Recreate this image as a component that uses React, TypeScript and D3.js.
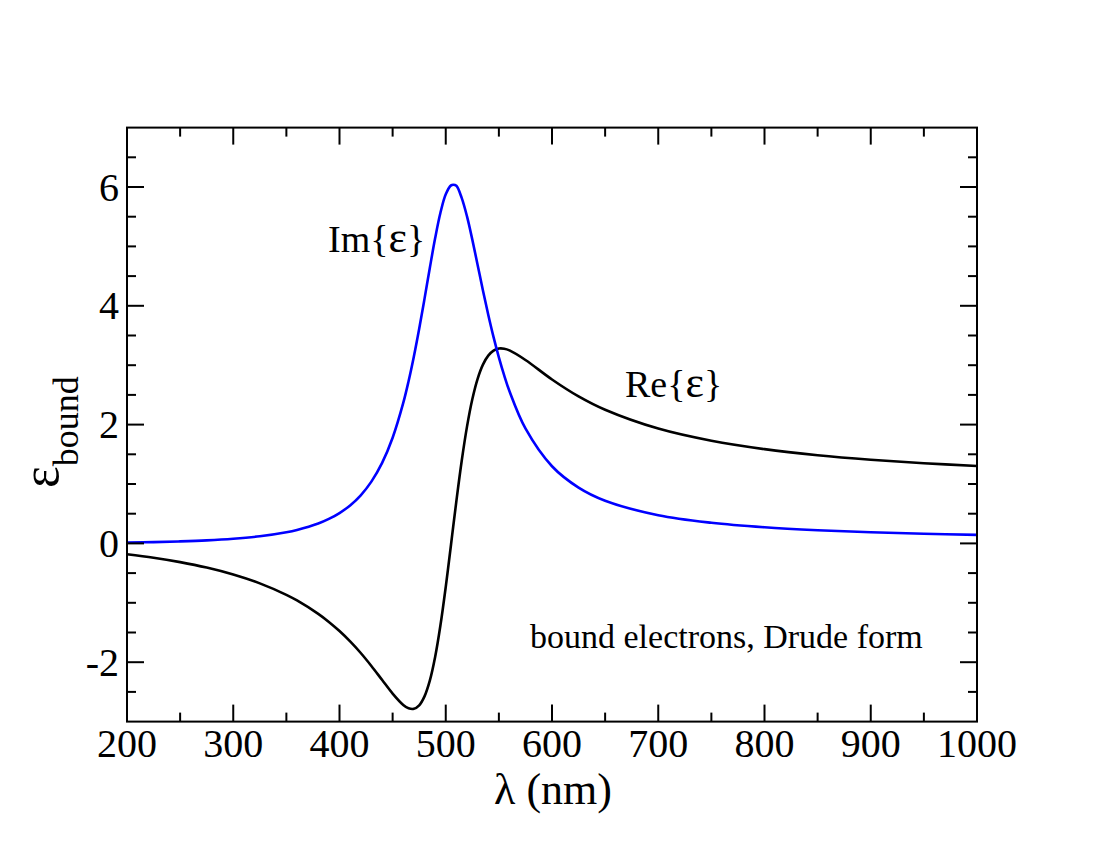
import { useMemo } from 'react';
import * as d3 from 'd3';

// wavelength (nm) samples
const LAMBDA = [200, 225, 250, 275, 300, 325, 350, 360, 380, 390, 400, 410, 420, 430, 440, 450, 460, 465, 470, 475, 480, 485, 490, 495, 500, 505, 507, 510, 515, 520, 525, 530, 535, 540, 545, 550, 555, 560, 575, 600, 625, 650, 700, 750, 800, 850, 900, 950, 1000];
const RE_EPS = [-0.182, -0.241, -0.315, -0.407, -0.524, -0.673, -0.866, -0.961, -1.186, -1.322, -1.476, -1.650, -1.845, -2.063, -2.296, -2.528, -2.719, -2.775, -2.784, -2.726, -2.576, -2.311, -1.913, -1.379, -0.731, -0.014, 0.280, 0.712, 1.387, 1.966, 2.427, 2.771, 3.009, 3.161, 3.245, 3.280, 3.277, 3.249, 3.088, 2.760, 2.475, 2.250, 1.933, 1.728, 1.587, 1.485, 1.409, 1.350, 1.302];
const IM_EPS = [0.014, 0.022, 0.034, 0.051, 0.078, 0.120, 0.188, 0.227, 0.335, 0.412, 0.511, 0.640, 0.810, 1.040, 1.351, 1.779, 2.365, 2.730, 3.147, 3.613, 4.117, 4.637, 5.136, 5.566, 5.877, 6.027, 6.038, 6.021, 5.816, 5.505, 5.114, 4.688, 4.259, 3.850, 3.473, 3.133, 2.829, 2.561, 1.935, 1.299, 0.940, 0.719, 0.474, 0.347, 0.271, 0.222, 0.188, 0.163, 0.144];

const X_MAJOR = [200, 300, 400, 500, 600, 700, 800, 900, 1000];
const X_MINOR = [250, 350, 450, 550, 650, 750, 850, 950];
const Y_MAJOR = [-2, 0, 2, 4, 6];
const Y_MINOR = [-2.5, -1.5, -1, -0.5, 0.5, 1, 1.5, 2.5, 3, 3.5, 4.5, 5, 5.5, 6.5];

const W = 1100, H = 850;
const L = 127, R = 977, T = 127.6, B = 721.6;
const FONT = '"Liberation Serif", "DejaVu Serif", serif';

export default function App() {
  const x = useMemo(() => d3.scaleLinear().domain([200, 1000]).range([L, R]), []);
  const y = useMemo(() => d3.scaleLinear().domain([-3, 7]).range([B, T]), []);

  const line = d3.line<number>()
    .x((_, i) => x(LAMBDA[i]))
    .curve(d3.curveCatmullRom.alpha(0.5));

  const rePath = line.y(d => y(d))(RE_EPS) || '';
  const imPath = line.y(d => y(d))(IM_EPS) || '';

  const tickStroke = { stroke: '#000', strokeWidth: 2 };

  return (
    <svg width={W} height={H} style={{ position: 'absolute', left: 0, top: 0, background: '#fff' }}
      fontFamily={FONT}>
      <rect x={0} y={0} width={W} height={H} fill="#fff" />

      {/* curves */}
      <path d={rePath} fill="none" stroke="#000" strokeWidth={2.6} />
      <path d={imPath} fill="none" stroke="#0000ff" strokeWidth={2.6} />

      {/* frame */}
      <rect x={L} y={T} width={R - L} height={B - T} fill="none" stroke="#000" strokeWidth={2} />

      {/* x ticks, bottom and top */}
      {X_MAJOR.map(v => (
        <g key={'xM' + v}>
          <line x1={x(v)} x2={x(v)} y1={B} y2={B - 17} {...tickStroke} />
          <line x1={x(v)} x2={x(v)} y1={T} y2={T + 17} {...tickStroke} />
          <text x={x(v)} y={757} textAnchor="middle" fontSize={40}>{v}</text>
        </g>
      ))}
      {X_MINOR.map(v => (
        <g key={'xm' + v}>
          <line x1={x(v)} x2={x(v)} y1={B} y2={B - 9} {...tickStroke} />
          <line x1={x(v)} x2={x(v)} y1={T} y2={T + 9} {...tickStroke} />
        </g>
      ))}

      {/* y ticks, left and right */}
      {Y_MAJOR.map(v => (
        <g key={'yM' + v}>
          <line x1={L} x2={L + 17} y1={y(v)} y2={y(v)} {...tickStroke} />
          <line x1={R} x2={R - 17} y1={y(v)} y2={y(v)} {...tickStroke} />
          <text x={119} y={y(v) + 13.5} textAnchor="end" fontSize={40}>{v < 0 ? '-' + Math.abs(v) : v}</text>
        </g>
      ))}
      {Y_MINOR.map(v => (
        <g key={'ym' + v}>
          <line x1={L} x2={L + 9} y1={y(v)} y2={y(v)} {...tickStroke} />
          <line x1={R} x2={R - 9} y1={y(v)} y2={y(v)} {...tickStroke} />
        </g>
      ))}

      {/* axis titles */}
      <text x={553} y={804} textAnchor="middle" fontSize={44}>λ (nm)</text>
      <text transform="translate(58,488) rotate(-90)" fontSize={52}>
        ε<tspan fontSize={36} dy={20}>bound</tspan>
      </text>

      {/* annotations */}
      <text x={328} y={252} fontSize={38}>Im{'{'}<tspan fontSize={44}>ε</tspan>{'}'}</text>
      <text x={625} y={397} fontSize={38}>Re{'{'}<tspan fontSize={44}>ε</tspan>{'}'}</text>
      <text x={530} y={648} fontSize={34}>bound electrons, Drude form</text>
    </svg>
  );
}
